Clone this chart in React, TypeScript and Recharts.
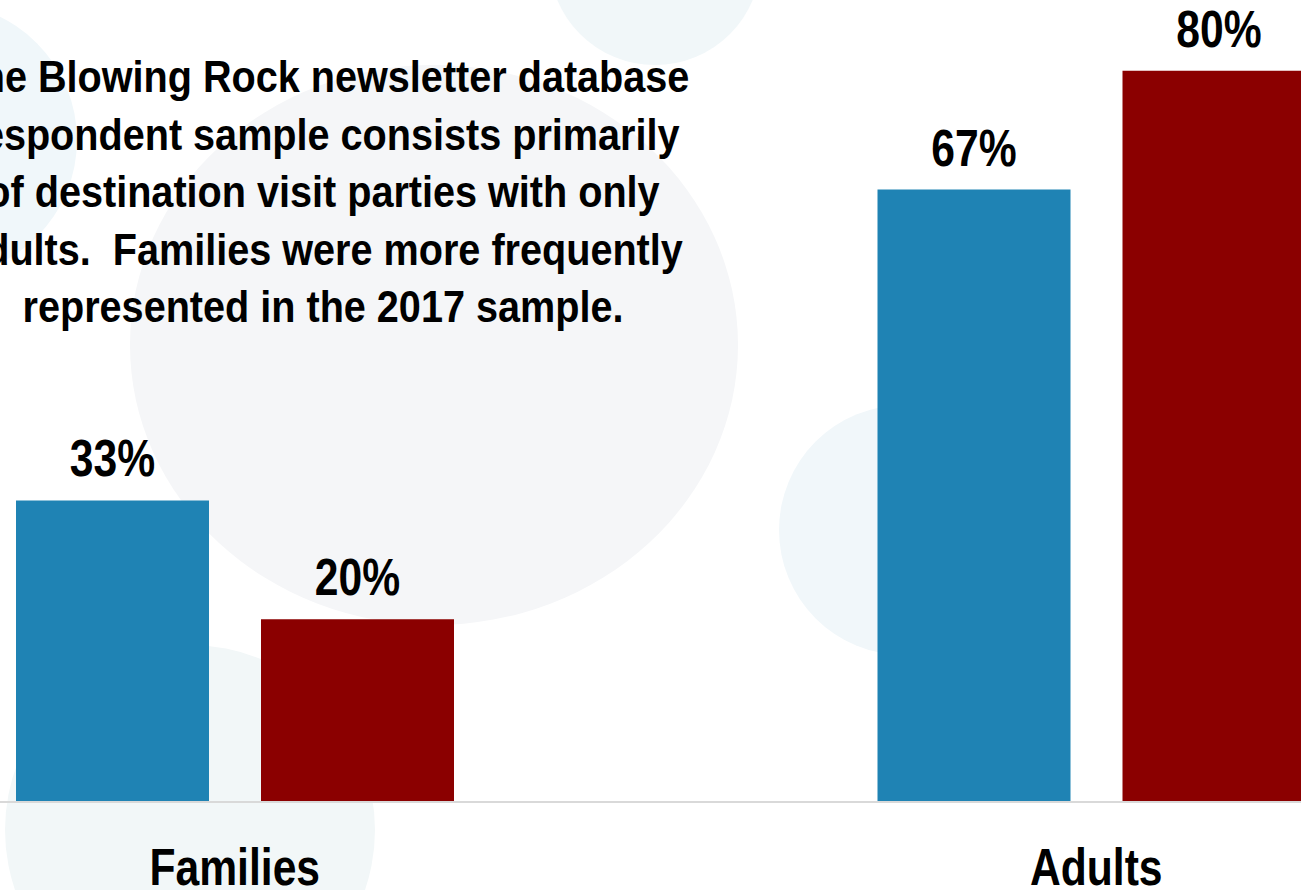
import { Bar, BarChart, LabelList, XAxis, YAxis } from 'recharts';

const categories = ['Families', 'Adults'];
const sample2017 = [33, 67];
const samplePrior = [20, 80];

const data = categories.map((name, i) => ({
  name,
  sample2017: sample2017[i],
  samplePrior: samplePrior[i],
}));

// no narrow font installed, so squeeze Liberation Sans horizontally
const FONT = '"Liberation Sans", Arial, sans-serif';
const SQUEEZE = 0.82;

const circles = [
  { left: 130, top: 65, w: 608, h: 560, color: '#f5f6f8' },
  { left: 549, top: -147, w: 212, h: 212, color: '#f1f7f9' },
  { left: -197, top: 3, w: 274, h: 274, color: '#f0f7fa' },
  { left: 779, top: 405, w: 250, h: 250, color: '#f1f7fa' },
  { left: 5, top: 645, w: 370, h: 370, color: '#f2f7f8' },
];

function NarrowText({ x, y, text }: { x: number; y: number; text: string }) {
  return (
    <text
      transform={`translate(${x}, ${y}) scale(${SQUEEZE}, 1)`}
      textAnchor="middle"
      fontFamily={FONT}
      fontSize={52}
      fontWeight={700}
      fill="#000000"
    >
      {text}
    </text>
  );
}

const renderValue = (props: any) => {
  const { x, y, width, value } = props;
  return <NarrowText x={Number(x) + Number(width) / 2} y={Number(y) - 24} text={`${value}%`} />;
};

const renderTick = (props: any) => {
  const { x, y, payload } = props;
  return <NarrowText x={x} y={y + 37} text={payload.value} />;
};

export default function App() {
  return (
    <div
      style={{
        position: 'absolute',
        left: 0,
        top: 0,
        width: 1301,
        height: 890,
        overflow: 'hidden',
        background: '#ffffff',
      }}
    >
      {circles.map((c, i) => (
        <div
          key={i}
          style={{
            position: 'absolute',
            left: c.left,
            top: c.top,
            width: c.w,
            height: c.h,
            borderRadius: '50%',
            background: c.color,
          }}
        />
      ))}
      <div style={{ position: 'absolute', left: -196, top: -112 }}>
        <BarChart
          width={1723}
          height={1034}
          data={data}
          margin={{ top: 0, right: 0, bottom: 0, left: 0 }}
          barGap={52}
        >
          <XAxis
            dataKey="name"
            height={120}
            tickLine={false}
            tickSize={0}
            tickMargin={46}
            axisLine={{ stroke: '#d9d9d9', strokeWidth: 2 }}
            tick={renderTick}
            interval={0}
          />
          <YAxis hide domain={[0, 100]} />
          <Bar dataKey="sample2017" fill="#1f83b4" barSize={193} isAnimationActive={false}>
            <LabelList dataKey="sample2017" content={renderValue} />
          </Bar>
          <Bar dataKey="samplePrior" fill="#8b0000" barSize={193} isAnimationActive={false}>
            <LabelList dataKey="samplePrior" content={renderValue} />
          </Bar>
        </BarChart>
      </div>
      <div
        style={{
          position: 'absolute',
          left: -127,
          top: 48,
          width: 900,
          textAlign: 'center',
          fontFamily: FONT,
          fontWeight: 700,
          fontSize: 44,
          lineHeight: '57.5px',
          color: '#000000',
          whiteSpace: 'pre',
          transform: 'scaleX(0.9)',
          transformOrigin: 'center',
        }}
      >
        {'The Blowing Rock newsletter database\nrespondent sample consists primarily\nof destination visit parties with only\nadults.  Families were more frequently\nrepresented in the 2017 sample.'}
      </div>
    </div>
  );
}
